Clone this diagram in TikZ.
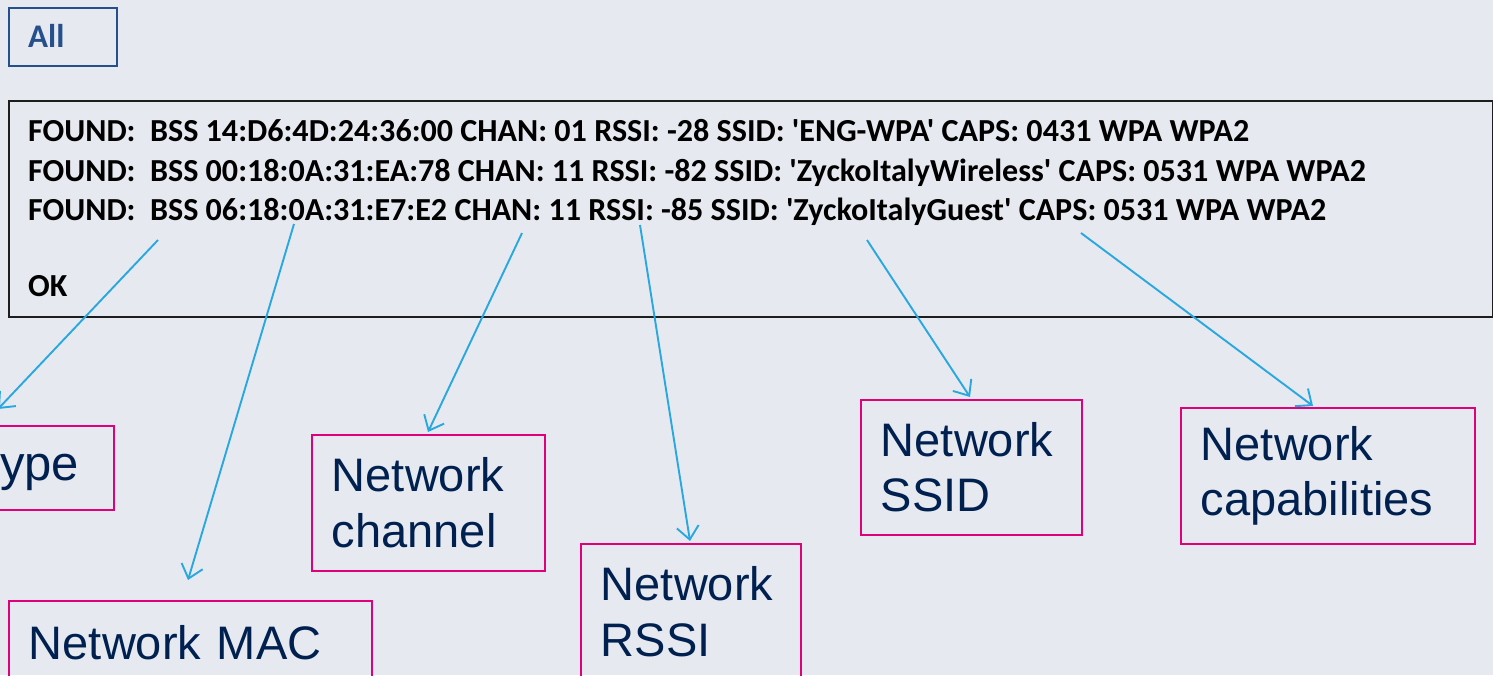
\documentclass[tikz,border=0pt]{standalone}
\usepackage{fontspec}
\setmainfont{Liberation Sans}
\newfontfamily\calfont{Carlito}
\usetikzlibrary{arrows.meta}
\definecolor{slidebg}{RGB}{230,233,239}
\definecolor{termline}{RGB}{30,30,30}
\definecolor{tabblue}{RGB}{38,80,140}
\definecolor{tagpink}{RGB}{224,0,122}
\definecolor{tagtext}{RGB}{0,32,80}
\definecolor{pointerblue}{RGB}{41,168,224}

\begin{document}
\begin{tikzpicture}[x=1pt,y=-1pt,
  tab/.style={draw=tabblue, line width=2pt, minimum width=108pt, minimum height=58pt,
    anchor=north west, inner sep=0pt},
  tabtext/.style={anchor=base west, inner sep=0pt, text=tabblue,
    font=\calfont\bfseries\fontsize{33}{38}\selectfont},
  termbox/.style={draw=termline, line width=1.6pt, anchor=north west,
    minimum width=1484pt, minimum height=216pt, inner sep=0pt},
  termtext/.style={anchor=base west, inner sep=0pt, text=black,
    font=\calfont\bfseries\fontsize{32.1}{38}\selectfont},
  tag/.style={draw=tagpink, line width=1.8pt, anchor=north west, inner xsep=20pt,
    inner ysep=0pt, align=left, text=tagtext, font=\fontsize{47}{55.5}\selectfont},
  pointer/.style={draw=pointerblue, line width=1.9pt,
    -{Straight Barb[length=13pt,width=22pt]}},
]
\fill[slidebg] (0,0) rectangle (1493,675);
\useasboundingbox (0,0) rectangle (1493,675);
\begin{scope}
\clip (0,0) rectangle (1493,675);

% selector tab
\node[tab] (all) at (8,7) {};
\node[tabtext] (alltxt) at (28,47.5) {All};

% scan output
\node[termbox] (scan) at (8,100) {};
\node[termtext] (l1) at (28,141.5) {FOUND:\ \ BSS 14:D6:4D:24:36:00 CHAN: 01 RSSI: -28 SSID: 'ENG-WPA' CAPS: 0431 WPA WPA2};
\node[termtext] (l2) at (28,181) {FOUND:\ \ BSS 00:18:0A:31:EA:78 CHAN: 11 RSSI: -82 SSID: 'ZyckoItalyWireless' CAPS: 0531 WPA WPA2};
\node[termtext] (l3) at (28,220.5) {FOUND:\ \ BSS 06:18:0A:31:E7:E2 CHAN: 11 RSSI: -85 SSID: 'ZyckoItalyGuest' CAPS: 0531 WPA WPA2};
\node[termtext] (ok) at (28,296.5) {OK};

% field tags
\node[tag, anchor=north east, text width=300pt, minimum height=84pt, align=right,
  inner xsep=35pt, font=\fontsize{49}{55}\selectfont] (type) at (115,425) {Network type};
\node[tag, text width=323pt, minimum height=84pt] (mac) at (8,600) {Network MAC};
\node[tag, text width=193pt, minimum height=136pt] (chan) at (311,434) {Network\\channel};
\node[tag, text width=180pt, minimum height=136pt] (rssi) at (580,543) {Network\\RSSI};
\node[tag, text width=181pt, minimum height=135pt] (ssid) at (860,399) {Network\\SSID};
\node[tag, text width=254pt, minimum height=136pt] (caps) at (1180,407) {Network\\capabilities};

% pointer ends
\coordinate (typeFrom) at (158,240);
\coordinate (typeTip)  at (-2,409);
\coordinate (macFrom)  at (294,224);
\coordinate (macTip)   at (188,580);
\coordinate (chanFrom) at (522,233);
\coordinate (chanTip)  at (428,432);
\coordinate (rssiFrom) at (640,225);
\coordinate (rssiTip)  at (690,541);
\coordinate (ssidFrom) at (867,240);
\coordinate (ssidTip)  at (970,397);
\coordinate (capsFrom) at (1081,233);
\coordinate (capsTip)  at (1313,406);

\draw[pointer] (typeFrom) -- (typeTip);
\draw[pointer] (macFrom) -- (macTip);
\draw[pointer] (chanFrom) -- (chanTip);
\draw[pointer] (rssiFrom) -- (rssiTip);
\draw[pointer] (ssidFrom) -- (ssidTip);
\draw[pointer] (capsFrom) -- (capsTip);
\end{scope}
\end{tikzpicture}
\end{document}
